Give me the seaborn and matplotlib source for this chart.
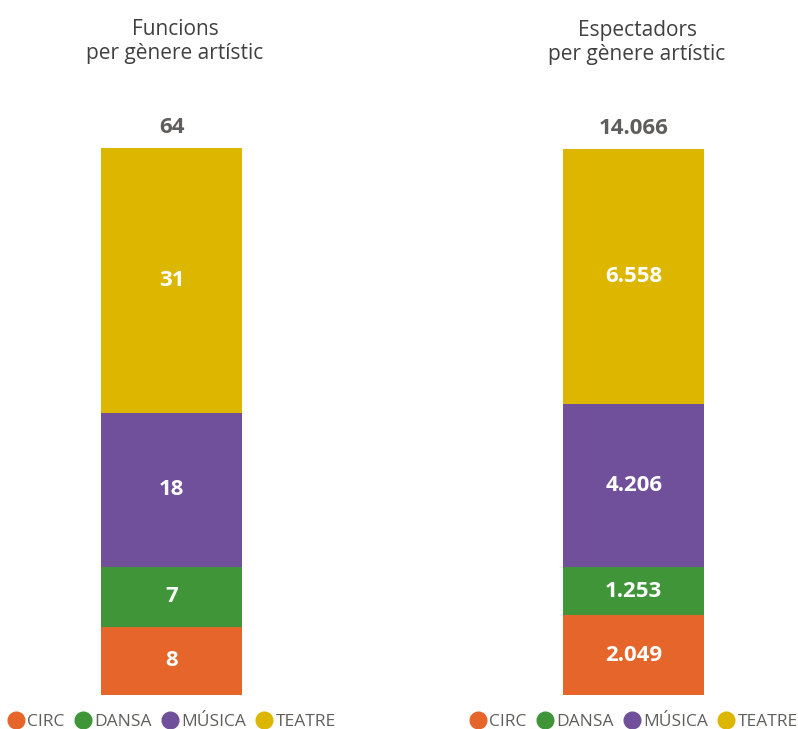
import matplotlib
matplotlib.use("Agg")
import matplotlib.pyplot as plt
import seaborn as sns
import pandas as pd
from matplotlib.lines import Line2D

# data
genres = ['CIRC', 'DANSA', 'MÚSICA', 'TEATRE']
funcions = [8, 7, 18, 31]
espectadors = [2049, 1253, 4206, 6558]
genre_colors = ['#E5652A', '#3F9538', '#71509B', '#DDB600']
titles = ['Funcions\nper gènere artístic', 'Espectadors\nper gènere artístic']


def fmt(v):
    # catalan thousands separator
    return f"{v:,}".replace(',', '.')


def stacked_panel(ax, values, title):
    df = pd.DataFrame({'genre': genres, 'value': values, 'color': genre_colors})
    df['top'] = df['value'].cumsum()
    df['mid'] = df['top'] - df['value'] / 2
    total = df['value'].sum()

    # draw cumulative bars from the tallest down so they stack
    for _, row in df.iloc[::-1].iterrows():
        sns.barplot(x=['g'], y=[row['top']], color=row['color'], saturation=1,
                    width=0.427, linewidth=0, ax=ax)

    for _, row in df.iterrows():
        ax.text(0, row['mid'], fmt(row['value']), ha='center', va='center',
                color='white', fontsize=16, fontweight='bold')

    ax.annotate(fmt(total), (0, total), xytext=(0, 15), textcoords='offset points',
                ha='center', va='center', color='#605E5C', fontsize=16, fontweight='bold')

    ax.set_ylim(0, total)
    ax.set_xlim(-0.49, 0.51)
    ax.set_title(title, fontsize=15, color='#404040', pad=64, linespacing=1.2)
    ax.axis('off')

    handles = [Line2D([], [], marker='o', linestyle='', markersize=12,
                      markerfacecolor=c, markeredgecolor=c) for c in genre_colors]
    ax.legend(handles, genres, loc='center', bbox_to_anchor=(0.49, -0.05), ncol=4,
              frameon=False, handletextpad=0.15, columnspacing=0.55, handlelength=1.0,
              fontsize=12.5, labelcolor='#605E5C')


sns.set_style('white')
plt.rcParams['font.family'] = ['Open Sans', 'DejaVu Sans']

fig = plt.figure(figsize=(7.98, 7.29), dpi=100)
ax1 = fig.add_axes([10 / 798, 34 / 729, 330 / 798, 547 / 729])
ax2 = fig.add_axes([472 / 798, 34 / 729, 330 / 798, 546 / 729])

stacked_panel(ax1, funcions, titles[0])
stacked_panel(ax2, espectadors, titles[1])

fig.savefig('out.png', dpi=100)
